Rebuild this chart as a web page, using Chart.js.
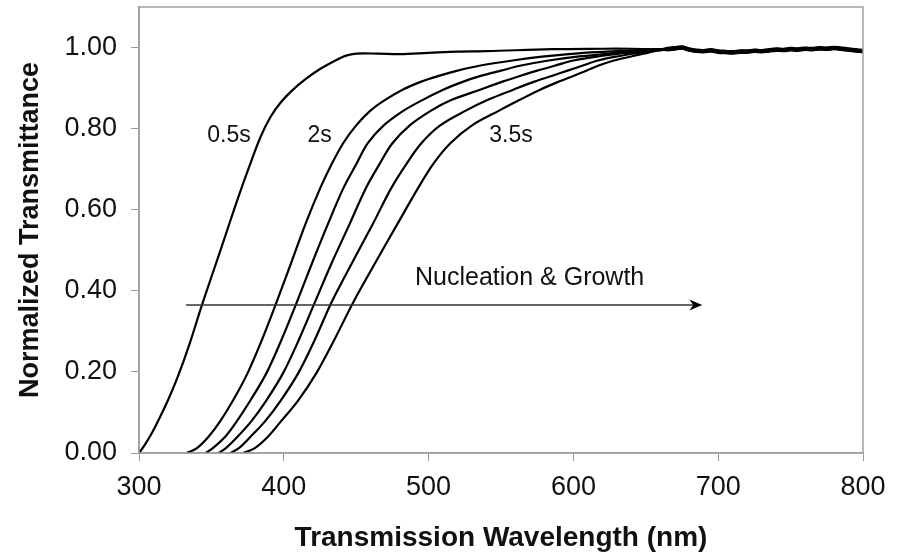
<!DOCTYPE html>
<html>
<head>
<meta charset="utf-8">
<script src="https://cdn.jsdelivr.net/npm/chart.js@4.4.1/dist/chart.umd.min.js"></script>
<style>
html,body{margin:0;padding:0;background:#fff;}
#wrap{width:907px;height:557px;position:relative;}
</style>
</head>
<body>
<div id="wrap"><canvas id="c"></canvas></div>
<script>
// ---- data ----
const seriesNames = ["0.5s", "2s", "c3", "c4", "c5", "3.5s"];
const wl05 = [300,304,309,314,320,327,335,343,352,360,368,376,384,391,398,406,415,425,435,443,450,465,480,500,520,540,585,620,640,660];
const tr05 = [0,0.02,0.05,0.085,0.13,0.19,0.27,0.36,0.455,0.54,0.625,0.705,0.78,0.83,0.865,0.895,0.922,0.947,0.967,0.98,0.985,0.985,0.984,0.987,0.99,0.991,0.996,0.997,0.997,0.996];
// transmittance levels at which the later curves were read
const trLevels = [0,0.012,0.04,0.078,0.13,0.197,0.28,0.372,0.468,0.565,0.652,0.712,0.764,0.808,0.845,0.871,0.896,0.916,0.93,0.943,0.955,0.968,0.978,0.987,0.992,0.995];
const wl2 = [333,340,348,356,365,375,385,395,405,415,425,433,441,450,460,470,482,495,507,520,535,558,580,607,635,660];
const wl3 = [346,351,359.5,367.5,377,388,398.5,409,419.5,430.5,441,450,458,469,483,496,510,524,536,550,563,583,604,630,648,660];
const wl4 = [355,360,368,377.5,388,399.5,410.5,421.5,433,445.5,456.5,466,475,487,502,516,535.5,551,563,575,587,600,617,637,650,660];
const wl5 = [363,369,377,387,398,410,421.5,433,447,461.5,474,484.5,495,508,526,541,558.5,573,585,596,606,617,630,645,654,661];
const wl6 = [372,380,389,398,410,422.5,435,448,463,478.5,492.5,503,515,530,549,563,577,590,600,609,617,628,640,651,658,663];
// shared noisy plateau where all curves overlap, plus small per-curve scatter
const plateauWl = [665,670,675,680,685,690,695,700,705,710,715,720,725,730,735,740,745,750,755,760,765,770,775,780,785,790,795,800];
const plateauTr = [0.996,0.998,1.0,0.995,0.992,0.991,0.993,0.99,0.989,0.988,0.99,0.99,0.992,0.991,0.993,0.995,0.994,0.996,0.995,0.997,0.996,0.998,0.997,0.999,0.997,0.995,0.993,0.991];
const plateauOffset = [0.003, -0.002, 0.001, -0.003, 0.002, -0.001];
const xTicks = [300,400,500,600,700,800];
const yTicks = [0,0.2,0.4,0.6,0.8,1.0];
const curveLabels = [
  {text:"0.5s", x:362.2, y:0.783},
  {text:"2s",   x:424.7, y:0.783},
  {text:"3.5s", x:556.9, y:0.783}
];
const arrowText = "Nucleation & Growth";
const arrowStart = {x:332.5, y:0.365};
const arrowEnd = {x:689, y:0.365};
const textAt = {x:490.6, y:0.415};

const curves = [[wl05,tr05],[wl2,trLevels],[wl3,trLevels],[wl4,trLevels],[wl5,trLevels],[wl6,trLevels]];
const datasets = curves.map((c,k)=>{
  const pts = c[0].map((x,i)=>({x:x, y:c[1][i]}));
  plateauWl.forEach((x,i)=>pts.push({x:x, y:plateauTr[i] + plateauOffset[k]}));
  return {label:seriesNames[k], data:pts, borderColor:'#000', borderWidth:2.2,
          pointRadius:0, fill:false, tension:0.35};
});

const overlay = {
  id:'overlay',
  afterDatasetsDraw(chart){
    const ctx = chart.ctx, a = chart.chartArea;
    const xs = chart.scales.x, ys = chart.scales.y;
    ctx.save();
    ctx.strokeStyle = '#a0a0a0'; ctx.lineWidth = 1.5;
    ctx.strokeRect(a.left, a.top, a.right - a.left, a.bottom - a.top);
    ctx.fillStyle = '#111';
    ctx.font = '23px "Liberation Sans", Arial, sans-serif';
    ctx.textAlign = 'center'; ctx.textBaseline = 'middle';
    curveLabels.forEach(l=>ctx.fillText(l.text, xs.getPixelForValue(l.x), ys.getPixelForValue(l.y)));
    const x0 = xs.getPixelForValue(arrowStart.x), y0 = ys.getPixelForValue(arrowStart.y);
    const x1 = xs.getPixelForValue(arrowEnd.x), y1 = ys.getPixelForValue(arrowEnd.y);
    ctx.strokeStyle = '#333'; ctx.lineWidth = 1.5;
    ctx.beginPath(); ctx.moveTo(x0, y0); ctx.lineTo(x1 - 6, y1); ctx.stroke();
    ctx.fillStyle = '#000';
    ctx.beginPath();
    ctx.moveTo(x1, y1); ctx.lineTo(x1 - 13, y1 - 5.5); ctx.lineTo(x1 - 9, y1); ctx.lineTo(x1 - 13, y1 + 5.5);
    ctx.closePath(); ctx.fill();
    ctx.fillStyle = '#111';
    ctx.font = '25px "Liberation Sans", Arial, sans-serif';
    ctx.textAlign = 'left'; ctx.textBaseline = 'alphabetic';
    ctx.fillText(arrowText, xs.getPixelForValue(textAt.x), ys.getPixelForValue(textAt.y));
    ctx.restore();
  }
};

new Chart(document.getElementById('c'), {
  type:'line',
  data:{datasets:datasets},
  plugins:[overlay],
  options:{
    responsive:true, maintainAspectRatio:false, animation:false,
    layout:{padding:{top:7, right:44, bottom:0, left:0}},
    plugins:{legend:{display:false}, tooltip:{enabled:false}},
    scales:{
      x:{type:'linear', min:300, max:800,
        afterBuildTicks(s){ s.ticks = xTicks.map(v=>({value:v})); },
        afterFit(s){ s.height = 104; s.paddingLeft = 0; s.paddingRight = 0; },
        grid:{display:true, drawOnChartArea:false, drawTicks:true, tickLength:8, color:'#999'},
        border:{display:true, color:'#999', width:1.5},
        ticks:{font:{family:'"Liberation Sans", Arial, sans-serif', size:27}, color:'#111', padding:10, maxRotation:0},
        title:{display:true, text:'Transmission Wavelength (nm)', color:'#111',
               font:{family:'"Liberation Sans", Arial, sans-serif', size:28, weight:'bold'}, padding:{top:0,bottom:2}}
      },
      y:{type:'linear', min:0, max:1.1,
        afterBuildTicks(s){ s.ticks = yTicks.map(v=>({value:v})); },
        afterFit(s){ s.width = 139; s.paddingTop = 0; s.paddingBottom = 0; },
        grid:{display:true, drawOnChartArea:false, drawTicks:true, tickLength:8, color:'#999'},
        border:{display:true, color:'#999', width:1.5},
        ticks:{font:{family:'"Liberation Sans", Arial, sans-serif', size:27}, color:'#111', padding:14,
               callback:(v)=>Number(v).toFixed(2)},
        title:{display:true, text:'Normalized Transmittance', color:'#111',
               font:{family:'"Liberation Sans", Arial, sans-serif', size:27, weight:'bold'}, padding:{top:14,bottom:0}}
      }
    }
  }
});
</script>
</body>
</html>
